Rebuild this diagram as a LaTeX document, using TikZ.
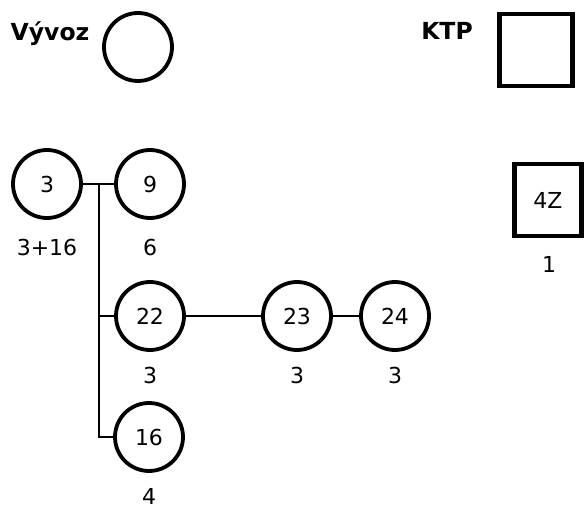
\documentclass[tikz,border=0pt]{standalone}
\usepackage{fontspec}
\setmainfont{DejaVu Sans}
\begin{document}
\begin{tikzpicture}[x=1pt,y=-1pt,
  circ/.style={draw, circle, line width=3.8pt, minimum size=68pt, inner sep=0pt, font=\fontsize{22}{24}\selectfont},
  sq/.style={draw, rectangle, line width=4.5pt, inner sep=0pt, font=\fontsize{22}{24}\selectfont},
  lbl/.style={font=\fontsize{22}{24}\selectfont, inner sep=0pt},
  ttl/.style={font=\bfseries\fontsize{23.5}{26}\selectfont, inner sep=0pt},
  conn/.style={draw, line width=1.5pt}]
\useasboundingbox (0,0) rectangle (584,508);
% legend
\node[ttl] (tv) at (50,34) {Vývoz};
\node[circ] (lv) at (138,47) {};
\node[ttl] (tk) at (447,31) {KTP};
\node[sq, minimum width=73pt, minimum height=72pt] (lk) at (536,50) {};
% nodes
\node[circ] (n3) at (47,184) {3};
\node[circ] (n9) at (150,184) {9};
\node[circ] (n22) at (150,316) {22};
\node[circ] (n23) at (297,316) {23};
\node[circ] (n24) at (395,316) {24};
\node[circ] (n16) at (149,437) {16};
\node[sq, minimum width=67pt, minimum height=72pt] (n4z) at (548,200) {4Z};
% labels
\node[lbl] (l3) at (47,247) {3+16};
\node[lbl] (l9) at (150,247) {6};
\node[lbl] (l22) at (150,375) {3};
\node[lbl] (l23) at (297,375) {3};
\node[lbl] (l24) at (395,375) {3};
\node[lbl] (l16) at (149,496) {4};
\node[lbl] (l4z) at (549,264) {1};
% connectors
\coordinate (j) at (99,184);
\draw[conn] (n3.east) -- (n9.west);
\draw[conn] (j) |- (n22.west);
\draw[conn] (j) |- (n16.west);
\draw[conn] (n22.east) -- (n23.west);
\draw[conn] (n23.east) -- (n24.west);
\end{tikzpicture}
\end{document}
